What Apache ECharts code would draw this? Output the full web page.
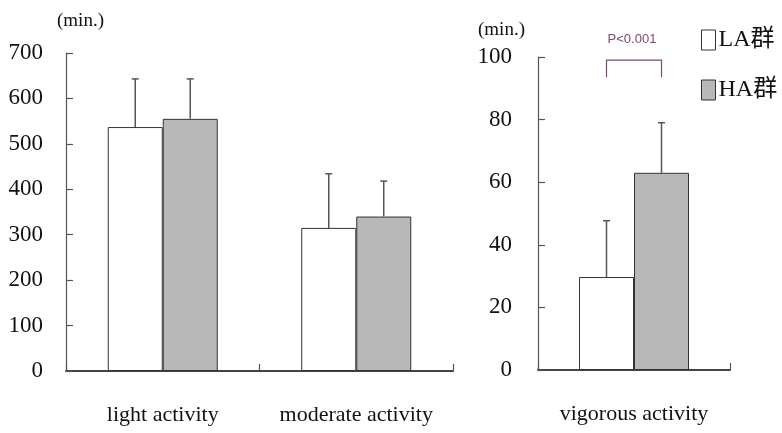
<!DOCTYPE html>
<html>
<head>
<meta charset="utf-8">
<script src="https://cdn.jsdelivr.net/npm/echarts@6/dist/echarts.min.js"></script>
<style>html,body{margin:0;padding:0;background:#fff}#c{width:782px;height:433px}</style>
</head>
<body>
<div id="c"></div>
<script>
// ---- data ----
var categoriesLeft = ['light activity', 'moderate activity'];
var categoriesRight = ['vigorous activity'];
var laLeft = [537, 315];
var laLeftSD = [106, 119];
var haLeft = [555, 340];
var haLeftSD = [88, 78];
var laRight = [29.7];
var laRightSD = [18];
var haRight = [63];
var haRightSD = [16];
var leftTicks = [0, 100, 200, 300, 400, 500, 600, 700];
var rightTicks = [0, 20, 40, 60, 80, 100];
var seriesNames = ['LA群', 'HA群'];
var pText = 'P<0.001';
var bracketLow = 93.5, bracketHigh = 99;

var BAR_W = 55;
var SERIF = "'Liberation Serif','Noto Sans CJK JP',serif";

function errData(vals, sds, side) {
  return vals.map(function (v, i) { return [i, v, sds[i], side]; });
}
function errRender(params, api) {
  var c = api.value(0), m = api.value(1), sd = api.value(2), side = api.value(3);
  var off = side * BAR_W / 2;
  var p1 = api.coord([c, m]);
  var p2 = api.coord([c, m + sd]);
  var x = p1[0] + off;
  var st = { stroke: '#555', lineWidth: 1.5 };
  return {
    type: 'group',
    children: [
      { type: 'line', shape: { x1: x, y1: p1[1], x2: x, y2: p2[1] }, style: st },
      { type: 'line', shape: { x1: x - 3.5, y1: p2[1], x2: x + 3.5, y2: p2[1] }, style: st }
    ]
  };
}
function bracketRender(params, api) {
  var c = api.value(0);
  var lo = api.coord([c, api.value(1)]);
  var hi = api.coord([c, api.value(2)]);
  var xl = lo[0] - BAR_W / 2, xr = lo[0] + BAR_W / 2;
  var col = '#7b4a72';
  return {
    type: 'group',
    children: [
      { type: 'polyline', shape: { points: [[xl, lo[1]], [xl, hi[1]], [xr, hi[1]], [xr, lo[1]]] },
        style: { stroke: col, lineWidth: 1.2, fill: null } },
      { type: 'text', style: { text: pText, x: lo[0] - 2, y: hi[1] - 21, align: 'center', verticalAlign: 'middle',
        fill: col, font: "13px 'Liberation Sans', Arial, sans-serif" } }
    ]
  };
}

var yLabel = { color: '#111', fontFamily: SERIF, fontSize: 23 };
var xLabel = { color: '#111', fontFamily: SERIF, fontSize: 22, margin: 33, interval: 0 };
var axisLineY = { show: true, lineStyle: { color: '#555', width: 1.2 } };
var axisLineX = { show: true, lineStyle: { color: '#444', width: 2 } };
var tickIn = { show: true, inside: true, length: 7, lineStyle: { color: '#555', width: 1.2 } };

var laStyle = { color: '#ffffff', borderColor: '#333', borderWidth: 1 };
var haStyle = { color: '#b8b8b8', borderColor: '#333', borderWidth: 1 };

var option = {
  animation: false,
  backgroundColor: '#fff',
  grid: [
    { left: 66, right: 329, top: 53, bottom: 62 },
    { left: 538, right: 52, top: 57, bottom: 63 }
  ],
  xAxis: [
    { type: 'category', gridIndex: 0, data: categoriesLeft, axisLine: axisLineX, axisTick: tickIn, axisLabel: xLabel },
    { type: 'category', gridIndex: 1, data: categoriesRight, axisLine: axisLineX, axisTick: tickIn, axisLabel: xLabel }
  ],
  yAxis: [
    { type: 'value', gridIndex: 0, min: leftTicks[0], max: leftTicks[leftTicks.length - 1], interval: 100,
      axisLine: axisLineY, axisTick: tickIn, splitLine: { show: false }, axisLabel: Object.assign({ margin: 23 }, yLabel) },
    { type: 'value', gridIndex: 1, min: rightTicks[0], max: rightTicks[rightTicks.length - 1], interval: 20,
      axisLine: axisLineY, axisTick: tickIn, splitLine: { show: false }, axisLabel: Object.assign({ margin: 26 }, yLabel) }
  ],
  legend: {
    data: [{ name: seriesNames[0], itemStyle: laStyle }, { name: seriesNames[1], itemStyle: haStyle }],
    orient: 'vertical', left: 701, top: 28, padding: 0,
    itemWidth: 14, itemHeight: 20, itemGap: 26, icon: 'path://M0,0L14,0L14,20L0,20Z',
    textStyle: { color: '#111', fontFamily: SERIF, fontSize: 24, lineHeight: 24, padding: [0, 0, 0, -2] }
  },
  graphic: [
    { type: 'text', left: 57, top: 12, style: { text: '(min.)', font: "19px 'Liberation Serif', serif", fill: '#111' } },
    { type: 'text', left: 478, top: 21, style: { text: '(min.)', font: "19px 'Liberation Serif', serif", fill: '#111' } }
  ],
  series: [
    { name: seriesNames[0], type: 'bar', xAxisIndex: 0, yAxisIndex: 0, data: laLeft, barWidth: BAR_W, barGap: '0%', itemStyle: laStyle },
    { name: seriesNames[1], type: 'bar', xAxisIndex: 0, yAxisIndex: 0, data: haLeft, barWidth: BAR_W, barGap: '0%', itemStyle: haStyle },
    { name: seriesNames[0], type: 'bar', xAxisIndex: 1, yAxisIndex: 1, data: laRight, barWidth: BAR_W, barGap: '0%', itemStyle: laStyle },
    { name: seriesNames[1], type: 'bar', xAxisIndex: 1, yAxisIndex: 1, data: haRight, barWidth: BAR_W, barGap: '0%', itemStyle: haStyle },
    { type: 'custom', xAxisIndex: 0, yAxisIndex: 0, renderItem: errRender, data: errData(laLeft, laLeftSD, -1), z: 5, encode: { x: 0, y: 1 } },
    { type: 'custom', xAxisIndex: 0, yAxisIndex: 0, renderItem: errRender, data: errData(haLeft, haLeftSD, 1), z: 5, encode: { x: 0, y: 1 } },
    { type: 'custom', xAxisIndex: 1, yAxisIndex: 1, renderItem: errRender, data: errData(laRight, laRightSD, -1), z: 5, encode: { x: 0, y: 1 } },
    { type: 'custom', xAxisIndex: 1, yAxisIndex: 1, renderItem: errRender, data: errData(haRight, haRightSD, 1), z: 5, encode: { x: 0, y: 1 } },
    { type: 'custom', xAxisIndex: 1, yAxisIndex: 1, renderItem: bracketRender, data: [[0, bracketLow, bracketHigh]], z: 5, encode: { x: 0, y: 1 }, clip: false }
  ]
};
var chart = echarts.init(document.getElementById('c'), null, { renderer: 'canvas' });
chart.setOption(option);
</script>
</body>
</html>
